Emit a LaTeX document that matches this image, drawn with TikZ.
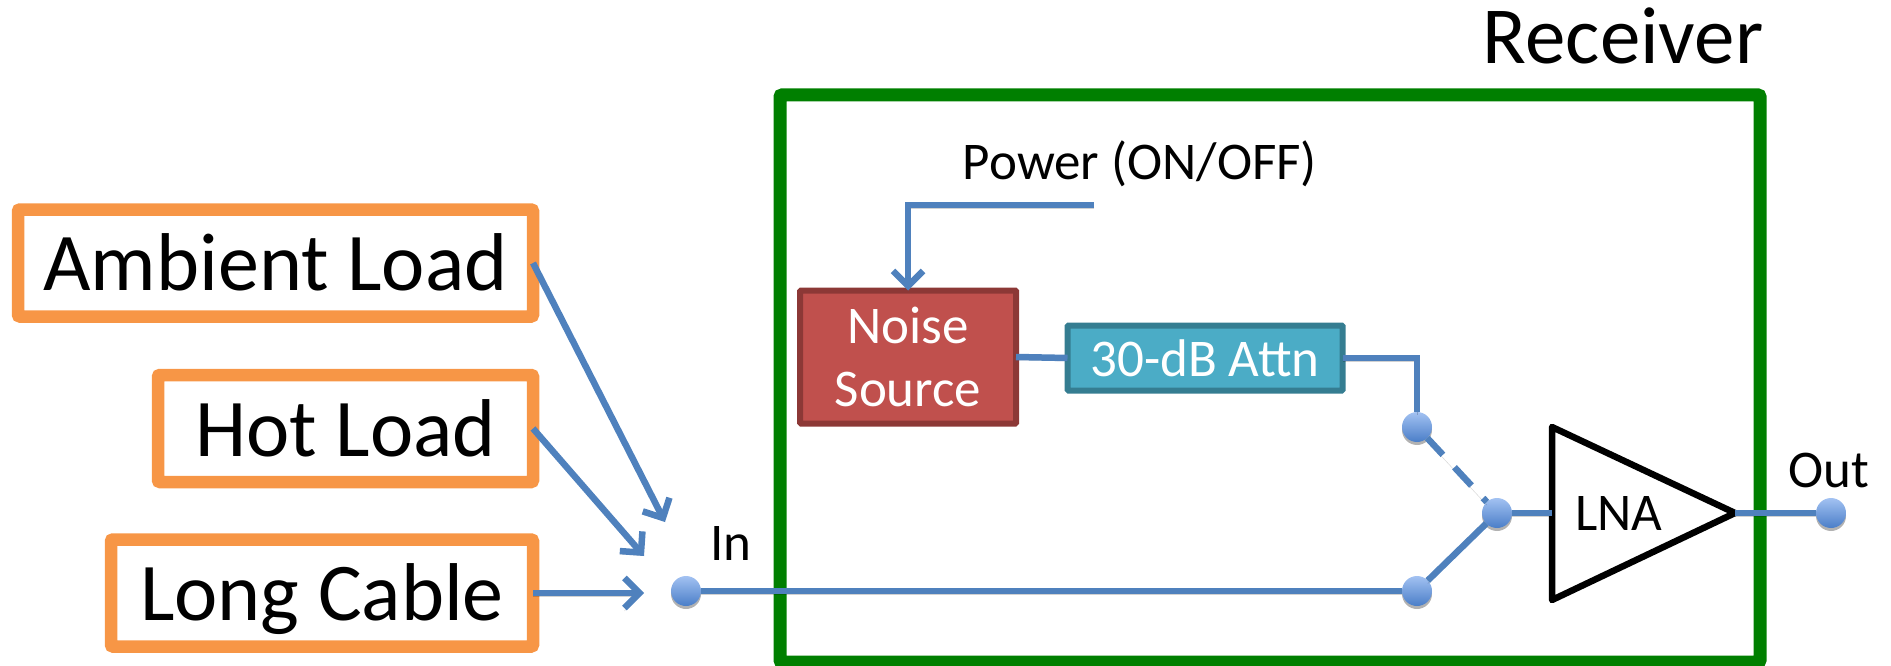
\documentclass[tikz,border=0pt]{standalone}
\usepackage{fontspec}
\setmainfont{Carlito}
\usetikzlibrary{arrows.meta,shadows}

\definecolor{loadorange}{HTML}{F79646}
\definecolor{rxgreen}{HTML}{007F00}
\definecolor{wireblue}{HTML}{4F81BD}
\definecolor{dottop}{HTML}{A3C2F2}
\definecolor{dotbottom}{HTML}{4A7EC8}
\definecolor{noisered}{HTML}{C0504D}
\definecolor{noiseedge}{HTML}{8C3836}
\definecolor{attnblue}{HTML}{4BACC6}
\definecolor{attnedge}{HTML}{357D91}

\tikzset{
  >={Straight Barb[length=15pt,width=30pt]},
  load/.style={draw=loadorange,line width=12.5pt,rounded corners=2pt,outer sep=0pt,inner sep=0pt,
    font=\fontsize{82}{98}\selectfont,text height=55pt,text depth=0pt},
  block/.style={line width=6pt,rounded corners=1pt,outer sep=0pt,inner sep=0pt,text=white,
    font=\fontsize{53}{63}\selectfont,align=center},
  wire/.style={draw=wireblue,line width=6.5pt,
    preaction={draw=black,draw opacity=.18,transform canvas={yshift=-3pt}}},
  dot/.style={circle,minimum size=30pt,inner sep=0pt,outer sep=0pt,
    top color=dottop,bottom color=dotbottom,
    drop shadow={shadow xshift=0pt,shadow yshift=-3pt,opacity=.3,fill=black}},
  label/.style={font=\fontsize{53}{60}\selectfont,inner sep=0pt,anchor=base}
}

\begin{document}
\begin{tikzpicture}[x=1pt,y=-1pt]
  \useasboundingbox (0,0) rectangle (1891,666);
  % receiver
  \node[draw=rxgreen,line width=13pt,rounded corners=2pt,outer sep=0pt,minimum width=980pt,minimum height=567pt] (receiver) at (1270,378.5) {};
  \node[label,font=\fontsize{81}{97}\selectfont] (rxlabel) at (1623,64) {Receiver};
  % loads
  \node[load,minimum width=515pt,minimum height=107pt] (ambient) at (275.5,263) {Ambient Load};
  \node[load,minimum width=375pt,minimum height=107pt] (hot) at (345.5,428.5) {Hot Load};
  \node[load,minimum width=422pt,minimum height=107pt] (cable) at (322,593) {Long Cable};
  % blocks
  \node[block,draw=noiseedge,fill=noisered,minimum width=216pt,minimum height=133pt] (noise) at (908,357) {Noise\\Source};
  \node[block,draw=attnedge,fill=attnblue,minimum width=275pt,minimum height=65pt] (attn) at (1205,358) {30-dB Attn};
  \node[label] (power) at (1140,179) {Power (ON/OFF)};
  % terminals
  \node[dot] (in) at (686,591) {};
  \node[label] (inlabel) at (731,560) {In};
  \node[dot] (attnsw) at (1417,427) {};
  \node[dot] (thrusw) at (1417,591) {};
  \node[dot] (common) at (1497,513) {};
  \node[dot] (out) at (1831,513) {};
  \node[label] (outlabel) at (1829,487) {Out};
  % amplifier
  \coordinate (lnatop) at (1552,427);
  \coordinate (lnabot) at (1552,600);
  \coordinate (lnatip) at (1735,513);
  \coordinate (lnain) at (1552,513);
  \draw[line width=6.5pt,line join=round] (lnatop) -- (lnatip) -- (lnabot) -- cycle;
  \node[label] (lna) at (1619,530) {LNA};
  % wires
  \coordinate (ambienttip) at (665,522);
  \coordinate (hottip) at (644,556);
  \coordinate (cabletip) at (644,593);
  \coordinate (powerend) at (1094,205);
  \draw[wire,->] (ambient.east) -- (ambienttip);
  \draw[wire,->] (hot.east) -- (hottip);
  \draw[wire,->] (cable.east) -- (cabletip);
  \draw[wire,->] (powerend) -| (noise.north);
  \draw[wire] (in) -- (thrusw);
  \draw[wire] (thrusw) -- (common);
  \draw[wire,dash pattern=on 25pt off 17pt,dash phase=2pt] (attnsw) -- (common);
  \draw[wire] (noise.east) -- (attn.west);
  \draw[wire] (attn.east) -| (attnsw);
  \draw[wire] (common) -- (lnain);
  \draw[wire] (lnatip) -- (out);
\end{tikzpicture}
\end{document}
